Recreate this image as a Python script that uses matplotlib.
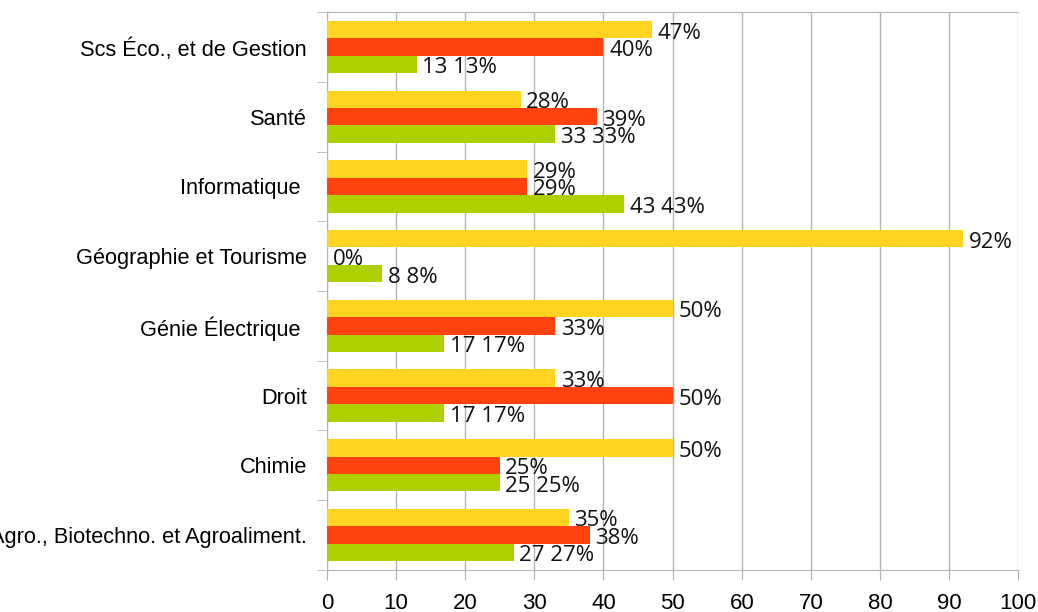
import matplotlib
matplotlib.use("Agg")
import matplotlib.pyplot as plt
import numpy as np

# données
categories = ["Scs Éco., et de Gestion", "Santé", "Informatique ", "Géographie et Tourisme",
              "Génie Électrique ", "Droit", "Chimie", "Agro., Biotechno. et Agroaliment."]
serie_jaune = [47, 28, 29, 92, 50, 33, 50, 35]
serie_rouge = [40, 39, 29, 0, 33, 50, 25, 38]
serie_verte = [13, 33, 43, 8, 17, 17, 25, 27]
labels_jaune = ["47%", "28%", "29%", "92%", "50%", "33%", "50%", "35%"]
labels_rouge = ["40%", "39%", "29%", "0%", "33%", "50%", "25%", "38%"]
labels_verte = ["13 13%", "33 33%", "43 43%", "8 8%", "17 17%", "17 17%", "25 25%", "27 27%"]

fig = plt.figure(figsize=(10.38, 6.12), dpi=100)
ax = fig.add_axes([0.315, 0.069, 0.666, 0.911])

y = np.arange(len(categories))
h = 0.25
couleurs = ["#FFD320", "#FF420E", "#AECF00"]
series = [serie_jaune, serie_rouge, serie_verte]
labels = [labels_jaune, labels_rouge, labels_verte]

for i, (vals, labs, c) in enumerate(zip(series, labels, couleurs)):
    pos = y - h + i * h
    ax.barh(pos, vals, height=h, color=c, zorder=3)
    for p, v, t in zip(pos, vals, labs):
        ax.text(v + 0.8, p + 0.05, t, va="center", ha="left", fontsize=16,
                family="Open Sans", color="#111111", zorder=4)

ax.set_xlim(0, 100)
ax.set_ylim(len(categories) - 0.5, -0.5)
ax.set_xticks(range(0, 101, 10))
ax.tick_params(axis="x", labelsize=16, direction="out", length=7, color="#b3b3b3", pad=9.5)
for lab in ax.get_xticklabels():
    lab.set_family("Liberation Sans")

# labels de catégories
ax.set_yticks(y)
ax.set_yticklabels(categories, fontsize=15.7, family="Liberation Sans")
ax.tick_params(axis="y", length=0, pad=14.5)
ax.set_yticks(np.arange(-0.5, len(categories), 1), minor=True)
ax.tick_params(axis="y", which="minor", length=7, direction="out", color="#b3b3b3")

ax.grid(axis="x", color="#b3b3b3", linewidth=1, zorder=0)
ax.spines["right"].set_visible(False)
for s in ["left", "bottom", "top"]:
    ax.spines[s].set_color("#b3b3b3")

fig.savefig("out.png", dpi=100)
